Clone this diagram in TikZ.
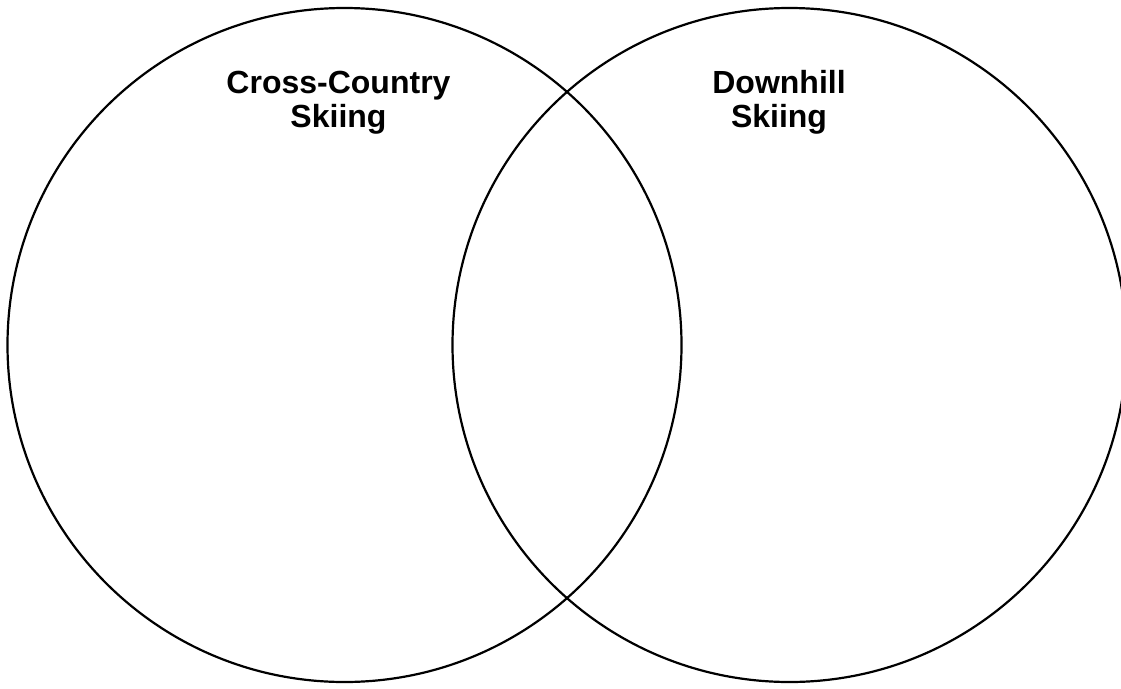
\documentclass[tikz,border=0pt]{standalone}
\usepackage{fontspec}
\setmainfont{Liberation Sans}
\begin{document}
\begin{tikzpicture}[x=1pt,y=-1pt,
  ring/.style={draw=black,line width=2.2pt},
  title/.style={font=\bfseries\fontsize{32}{34}\selectfont,align=center,anchor=base,inner sep=0pt}]
\useasboundingbox (0,0) rectangle (1121,688);
\clip (0,0) rectangle (1121,688);
\node[ring,circle,minimum size=674pt,inner sep=0pt] (left) at (344.5,345) {};
\node[ring,circle,minimum size=674pt,inner sep=0pt] (right) at (789.5,345) {};
\node[title] (lt) at (338.5,127) {Cross-Country\\Skiing};
\node[title] (rt) at (779,127) {Downhill\\Skiing};
\end{tikzpicture}
\end{document}
